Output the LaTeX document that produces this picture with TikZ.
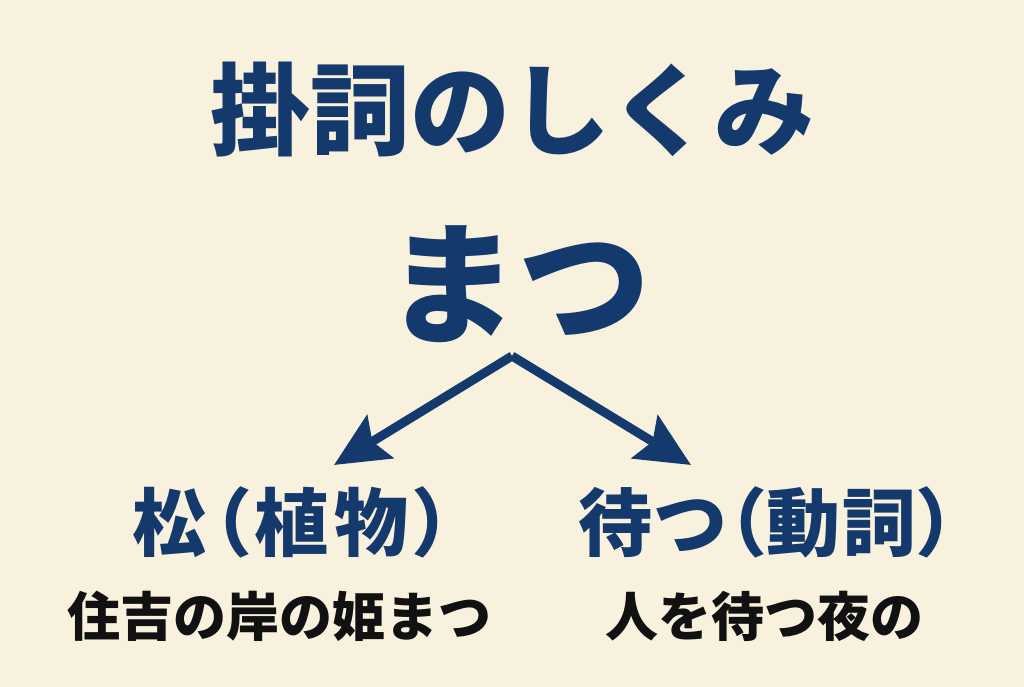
\documentclass[tikz,border=0pt]{standalone}
\usepackage{fontspec}
\usetikzlibrary{arrows.meta}
\newfontfamily\jp{Noto Sans CJK JP}
\newfontfamily\jpa{Noto Sans CJK JP}[RawFeature={+palt}, LetterSpace=8]
\newfontfamily\jpb{Noto Sans CJK JP}[RawFeature={+palt}, LetterSpace=3]
\definecolor{paper}{HTML}{F8F1DE}
\definecolor{navy}{HTML}{14396C}
\definecolor{ink}{HTML}{111111}
\tikzset{
  title/.style={font=\jp\bfseries\fontsize{100}{100}\selectfont, text=navy, inner sep=0pt, anchor=base},
  keyword/.style={font=\jp\bfseries\fontsize{132}{132}\selectfont, text=navy, inner sep=0pt, anchor=base},
  meaning/.style={text=navy, inner sep=0pt, anchor=base},
  poem/.style={font=\jp\bfseries\fontsize{53}{53}\selectfont, text=ink, inner sep=0pt, anchor=base},
  branch/.style={draw=navy, line width=9pt, -{Stealth[length=54pt, width=50pt, inset=9pt]}},
}
\begin{document}
\begin{tikzpicture}[x=1pt,y=-1pt]
\fill[paper] (0,0) rectangle (1024,687);
\useasboundingbox (0,0) rectangle (1024,687);
\node[title] (ttl) at (512,148) {掛詞のしくみ};
\node[keyword] (kw) at (518,333) {まつ};
\coordinate (apex) at (512,356);
\coordinate (tipL) at (334,465);
\coordinate (tipR) at (691,465);
\node[meaning, font=\jpa\bfseries\fontsize{74}{74}\selectfont] (mL) at (292,550) {松（植物）};
\node[meaning, font=\jpb\bfseries\fontsize{74}{74}\selectfont] (mR) at (767,550) {待つ（動詞）};
\node[poem] (pL) at (279,636) {住吉の岸の姫まつ};
\node[poem] (pR) at (764,636) {人を待つ夜の};
\draw[branch] (apex) -- (tipL);
\draw[branch] (apex) -- (tipR);
\end{tikzpicture}
\end{document}
